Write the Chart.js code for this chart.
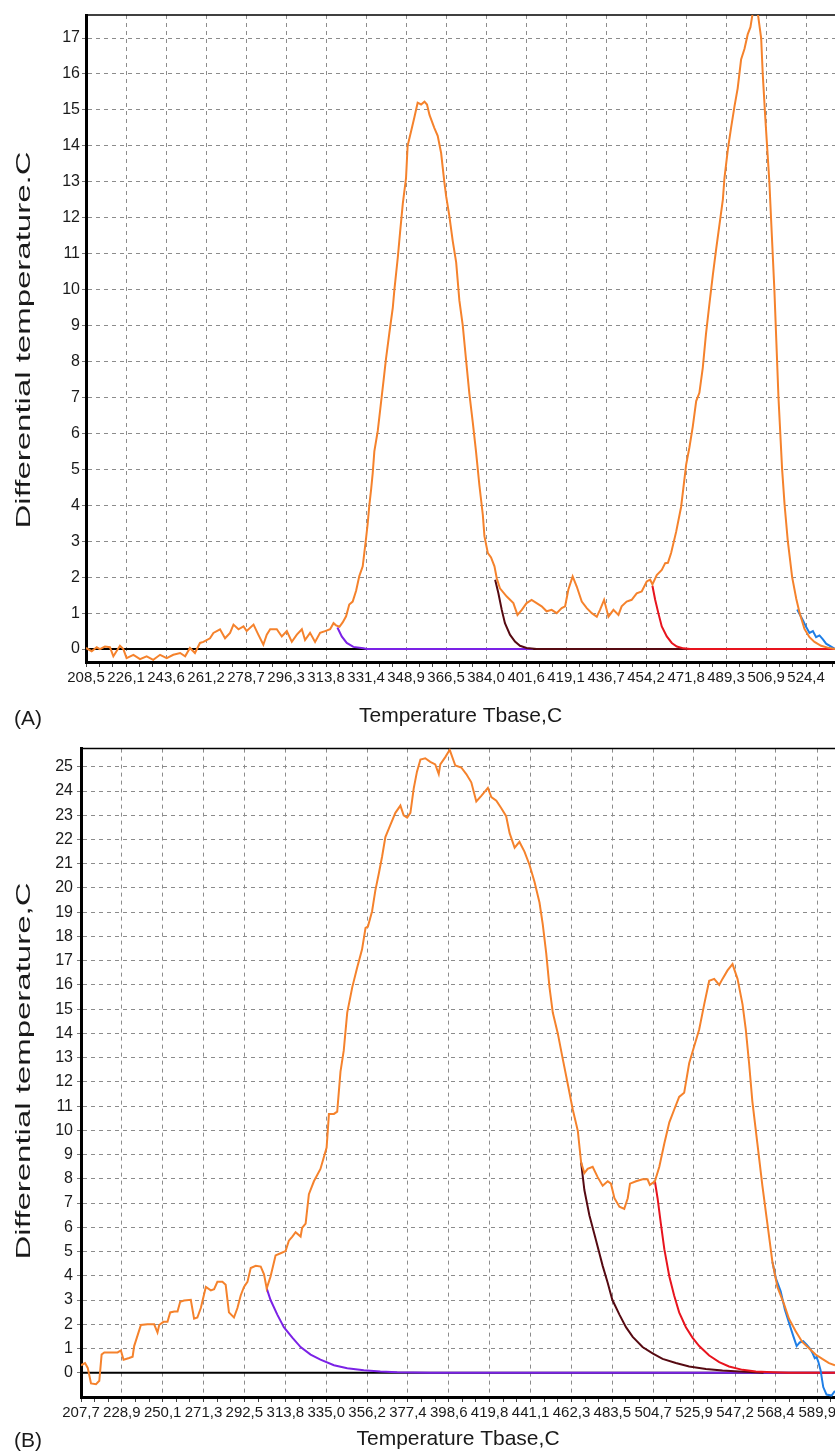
<!DOCTYPE html>
<html>
<head>
<meta charset="utf-8">
<script src="https://cdn.jsdelivr.net/npm/chart.js@4.4.1/dist/chart.umd.min.js"></script>
<style>
html,body{margin:0;padding:0;background:#fff;}
body{width:835px;height:1452px;position:relative;overflow:hidden;font-family:'Liberation Sans',Arial,sans-serif;}
#wa{position:absolute;left:0;top:0;width:835px;height:735px;}
#wb{position:absolute;left:0;top:735px;width:835px;height:717px;}
.panel{position:absolute;left:14px;font-size:21px;color:#1a1a1a;line-height:1;}
.ytitle{position:absolute;font-size:21px;color:#1a1a1a;line-height:1;white-space:nowrap;
        transform:translate(-50%,-50%) rotate(-90deg) scaleX(1.57);}
</style>
</head>
<body>
<div id="wa"><canvas id="ca"></canvas></div>
<div id="wb"><canvas id="cb"></canvas></div>
<div class="panel" style="top:707px">(A)</div>
<div class="panel" style="top:1429px">(B)</div>
<div class="ytitle" style="left:22px;top:340px">Differential temperature.C</div>
<div class="ytitle" style="left:22px;top:1071px">Differential temperature,C</div>
<script>
// ---------------- DATA ----------------
// Panel A tick values
const xTicksA = [208.5, 226.1, 243.6, 261.2, 278.7, 296.3, 313.8, 331.4, 348.9, 366.5, 384.0, 401.6, 419.1, 436.7, 454.2, 471.8, 489.3, 506.9, 524.4];
const yTicksA = [0, 1, 2, 3, 4, 5, 6, 7, 8, 9, 10, 11, 12, 13, 14, 15, 16, 17];
// Panel B tick values
const xTicksB = [207.7, 228.9, 250.1, 271.3, 292.5, 313.8, 335.0, 356.2, 377.4, 398.6, 419.8, 441.1, 462.3, 483.5, 504.7, 525.9, 547.2, 568.4, 589.9];
const yTicksB = [0, 1, 2, 3, 4, 5, 6, 7, 8, 9, 10, 11, 12, 13, 14, 15, 16, 17, 18, 19, 20, 21, 22, 23, 24, 25];

// Panel A series [Tbase, dT]
const A_orange = [
 [208.5,0.03],[211.0,-0.06],[213.2,0.05],[214.6,0.0],[216.8,0.07],[219.0,0.05],[220.5,-0.2],[223.4,0.09],[224.9,0.0],
 [226.3,-0.25],[229.3,-0.16],[232.2,-0.28],[235.1,-0.2],[238.0,-0.3],[241.0,-0.16],[243.9,-0.25],[246.8,-0.16],[249.8,-0.11],
 [252.0,-0.2],[254.1,0.03],[256.3,-0.11],[258.5,0.17],[260.0,0.2],[262.9,0.3],[264.4,0.45],[267.3,0.55],[269.5,0.3],
 [271.7,0.45],[273.2,0.68],[275.4,0.55],[277.6,0.63],[279.0,0.5],[282.0,0.68],[284.1,0.4],[286.3,0.12],[287.8,0.4],
 [289.3,0.55],[292.2,0.55],[294.4,0.35],[296.6,0.5],[298.8,0.2],[301.0,0.4],[303.2,0.55],[304.6,0.25],[306.8,0.45],
 [309.0,0.2],[311.2,0.45],[313.4,0.5],[315.6,0.55],[317.1,0.72],[318.2,0.66],[319.7,0.62],[321.1,0.74],[322.6,0.91],
 [324.0,1.24],[325.5,1.32],[327.0,1.62],[328.4,2.03],[329.9,2.3],[331.4,3.1],[332.1,3.5],[332.8,4.0],[333.6,4.45],
 [334.3,4.9],[335.0,5.5],[336.5,6.07],[338.0,6.9],[339.1,7.5],[340.1,8.07],[341.6,8.8],[343.1,9.5],[343.8,10.0],
 [345.3,10.9],[346.3,11.6],[347.5,12.4],[348.9,13.1],[349.6,14.0],[351.1,14.4],[352.6,14.8],[354.0,15.2],[355.5,15.15],
 [357.0,15.23],[358.1,15.15],[359.2,14.86],[361.3,14.5],[362.8,14.28],[364.3,13.8],[365.7,13.0],[366.5,12.6],[367.9,12.05],
 [369.4,11.35],[370.9,10.76],[372.3,9.7],[373.8,9.0],[375.2,8.07],[376.7,7.1],[378.2,6.3],[379.6,5.5],[381.1,4.55],
 [382.6,3.73],[383.3,3.14],[384.8,2.67],[386.2,2.55],[387.7,2.3],[388.7,1.97],[390.1,1.69],[393.1,1.46],[396.0,1.28],
 [397.8,0.95],[399.7,1.09],[401.8,1.28],[404.0,1.37],[406.2,1.28],[408.4,1.19],[410.6,1.05],[412.8,1.09],[415.0,1.0],
 [417.2,1.14],[418.7,1.19],[420.1,1.65],[422.0,2.02],[423.8,1.74],[426.0,1.32],[428.2,1.14],[430.4,1.0],[432.6,0.9],
 [434.0,1.09],[435.8,1.37],[437.7,0.9],[439.9,1.09],[442.1,0.95],[443.5,1.19],[445.7,1.32],[447.9,1.37],[450.1,1.55],
 [452.3,1.6],[454.5,1.88],[456.0,1.93],[457.0,1.8],[458.9,2.06],[461.1,2.2],[462.6,2.39],[463.8,2.4],[465.2,2.67],
 [467.4,3.26],[469.6,3.96],[471.8,5.13],[473.2,5.6],[474.7,6.19],[476.2,6.9],[477.6,7.13],[479.1,7.83],[480.5,8.77],
 [482.0,9.6],[483.5,10.4],[484.9,11.1],[486.4,11.8],[487.9,12.5],[488.6,13.1],[490.1,13.9],[491.5,14.5],[493.0,15.1],
 [494.4,15.6],[495.9,16.4],[497.4,16.7],[498.8,17.1],[500.0,17.3],[501.0,17.7],[503.2,17.7],[504.7,17.0],[505.4,16.0],
 [506.5,14.8],[508.3,13.0],[509.4,11.5],[510.5,10.0],[511.4,8.5],[512.3,7.0],[513.9,5.0],[515.0,4.0],[516.4,3.0],
 [518.3,2.0],[520.1,1.4],[521.6,1.0],[523.7,0.56],[525.9,0.33],[528.1,0.2],[531.0,0.09],[533.9,0.04],[537.1,0.0]
];
const A_purple = [[318.8,0.6],[320.7,0.35],[322.9,0.17],[325.8,0.06],[330.2,0.02],[331.7,0.0],[404.8,0.0]];
const A_maroon = [[388.0,1.93],[389.4,1.56],[390.9,1.09],[392.3,0.72],[394.5,0.4],[396.7,0.21],[398.9,0.09],[401.8,0.03],[406.2,0.0],[473.5,0.0]];
const A_red = [[457.0,1.76],[458.2,1.37],[459.6,1.0],[461.1,0.63],[463.3,0.35],[465.5,0.17],[467.7,0.07],[470.6,0.02],[473.5,0.0],[537.1,0.0]];
const A_blue = [[520.5,1.1],[523.0,0.8],[524.4,0.62],[525.9,0.45],[527.4,0.5],[528.8,0.33],[530.3,0.38],[531.8,0.27],[533.2,0.15],[535.4,0.07],[537.1,0.0]];

// Panel B series [Tbase, dT]
const B_orange = [
 [207.7,0.31],[209.8,0.4],[211.2,0.2],[212.9,-0.44],[215.5,-0.47],[217.2,-0.33],[218.4,0.75],[219.8,0.84],[223.2,0.84],
 [226.7,0.84],[228.4,0.92],[229.8,0.54],[232.7,0.61],[234.5,0.66],[235.3,1.1],[236.7,1.45],[238.8,1.97],[242.2,2.0],
 [245.7,2.0],[247.4,1.66],[248.3,1.97],[250.5,2.1],[252.6,2.1],[254.0,2.49],[256.1,2.53],[257.8,2.53],[259.2,2.93],
 [261.2,2.98],[264.7,3.01],[266.4,2.23],[268.1,2.28],[269.9,2.67],[272.5,3.54],[275.1,3.4],[276.8,3.45],[278.5,3.75],
 [281.1,3.75],[282.8,3.63],[284.5,2.49],[287.1,2.28],[288.9,2.67],[290.6,3.19],[292.3,3.54],[294.1,3.75],[295.8,4.32],
 [298.4,4.41],[301.0,4.38],[302.7,4.06],[304.1,3.48],[306.1,3.97],[308.7,4.84],[311.3,4.93],[313.9,5.02],[315.6,5.45],
 [317.4,5.62],[319.1,5.8],[321.7,5.62],[322.5,5.98],[324.3,6.15],[326.0,7.37],[328.6,7.9],[332.0,8.41],[335.2,9.29],
 [336.4,10.68],[339.0,10.68],[340.7,10.77],[342.4,12.42],[344.1,13.3],[345.9,14.86],[348.5,15.9],[351.0,16.7],[353.6,17.47],
 [355.4,18.35],[356.6,18.4],[358.8,19.04],[360.5,19.9],[362.3,20.6],[364.0,21.3],[365.7,22.1],[368.3,22.6],[370.9,23.1],
 [373.5,23.4],[375.2,23.0],[377.0,22.9],[378.7,23.1],[380.4,24.1],[382.1,24.8],[383.9,25.3],[386.4,25.35],[389.0,25.2],
 [391.6,25.1],[393.4,24.7],[394.2,25.1],[396.8,25.4],[399.1,25.7],[402.0,25.05],[405.1,24.97],[407.7,24.7],[410.3,24.36],
 [412.9,23.57],[415.5,23.8],[418.9,24.13],[420.7,23.75],[423.3,23.6],[425.8,23.3],[428.4,22.96],[430.2,22.26],[432.8,21.66],
 [435.3,21.9],[437.9,21.5],[440.5,20.96],[443.1,20.26],[445.7,19.4],[447.4,18.5],[449.2,17.3],[450.9,15.9],[452.6,14.86],
 [455.2,14.0],[457.8,12.94],[460.4,11.9],[463.0,10.85],[465.6,9.98],[467.3,8.68],[469.0,8.24],[470.7,8.41],[473.3,8.5],
 [475.9,8.07],[478.5,7.72],[481.1,7.9],[482.8,7.8],[484.6,7.2],[487.2,6.85],[489.7,6.76],[491.5,7.2],[492.7,7.8],
 [495.8,7.9],[499.2,7.98],[501.8,7.98],[503.0,7.75],[505.6,7.9],[507.9,8.5],[510.5,9.46],[513.1,10.33],[515.6,10.85],
 [518.2,11.38],[520.8,11.55],[523.4,12.77],[526.0,13.47],[528.6,14.16],[531.2,15.2],[533.8,16.17],[536.4,16.25],[539.0,16.0],
 [540.7,16.25],[543.3,16.6],[545.9,16.86],[548.5,16.25],[551.1,15.2],[552.8,14.16],[554.5,12.77],[556.2,11.2],[558.8,9.46],
 [561.4,7.72],[564.0,6.15],[566.6,4.58],[569.2,3.54],[572.6,2.84],[575.2,2.23],[578.7,1.71],[582.1,1.27],[585.6,1.01],
 [589.0,0.75],[592.5,0.57],[596.0,0.4],[599.1,0.31]
];
const B_purple = [[304.1,3.48],[306.1,3.0],[309.6,2.4],[313.0,1.88],[317.4,1.45],[321.7,1.06],[326.9,0.75],[332.0,0.54],[339.0,0.31],[345.9,0.19],[354.5,0.1],[363.1,0.05],[371.8,0.02],[389.0,0.0],[599.1,0.0]];
const B_maroon = [[467.3,8.68],[469.0,7.54],[471.6,6.5],[475.1,5.45],[478.5,4.41],[481.1,3.71],[483.5,3.01],[487.2,2.4],[490.6,1.88],[494.1,1.48],[499.2,1.06],[504.4,0.8],[509.6,0.57],[516.5,0.4],[523.4,0.26],[532.1,0.16],[540.7,0.09],[549.3,0.05],[558.0,0.02],[562.0,0.0]];
const B_red = [[505.6,7.9],[507.0,7.2],[508.7,6.15],[510.5,5.1],[513.1,3.97],[515.6,3.19],[518.2,2.49],[521.7,1.88],[525.1,1.45],[528.6,1.1],[533.8,0.71],[539.0,0.44],[544.1,0.26],[551.1,0.12],[558.0,0.05],[566.6,0.02],[575.0,0.0],[599.1,0.0]];
const B_blue = [[566.6,4.58],[568.4,3.9],[570.9,3.36],[573.1,2.6],[575.7,1.94],[577.5,1.5],[579.2,1.1],[580.8,1.25],[582.6,1.3],[584.5,1.15],[586.1,1.0],[587.5,0.8],[588.6,0.6],[589.5,0.65],[590.4,0.46],[591.6,0.11],[593.0,-0.59],[594.7,-0.9],[597.3,-0.94],[599.1,-0.75]];

// ---------------- STYLE ----------------
const FONT = "'Liberation Sans', Arial, Helvetica, sans-serif";
const ORANGE = '#F5822C', PURPLE = '#7B22E6', MAROON = '#560A12', RED = '#E8141E', BLUE = '#1E7EE6';
const GRID = '#8c8c8c';
const MINOR_PER_STEP = 3;

const frameAndZero = {
  id: 'frameAndZero',
  beforeDatasetsDraw(chart) {
    const {ctx, chartArea: {left, right, top}, scales: {y}} = chart;
    const y0 = y.getPixelForValue(0);
    ctx.save();
    ctx.strokeStyle = '#000';
    ctx.lineWidth = 2;
    ctx.beginPath(); ctx.moveTo(left, y0); ctx.lineTo(right, y0); ctx.stroke();
    ctx.lineWidth = 1.5;
    ctx.beginPath(); ctx.moveTo(left, top); ctx.lineTo(right, top); ctx.stroke();
    ctx.restore();
  }
};

const toXY = arr => arr.map(([x, y]) => ({x, y}));
const fmt = v => Number(v).toFixed(1).replace('.', ',');

// major ticks from the tick array plus minor subdivisions between them
function buildXTicks(majors, max) {
  const out = [];
  const step = (majors[majors.length - 1] - majors[0]) / (majors.length - 1);
  majors.forEach((v, i) => {
    out.push({value: v, major: true});
    const next = i < majors.length - 1 ? majors[i + 1] : v + step;
    for (let k = 1; k < MINOR_PER_STEP; k++) {
      const m = v + (next - v) * k / MINOR_PER_STEP;
      if (m <= max) out.push({value: m, major: false});
    }
  });
  return out;
}

function makeChart(id, o) {
  const ds = o.series.map(s => ({
    data: toXY(s.data), borderColor: s.color, backgroundColor: s.color,
    borderWidth: 2, pointRadius: 0, tension: 0, fill: false
  }));
  return new Chart(document.getElementById(id), {
    type: 'line',
    data: {datasets: ds},
    options: {
      animation: false, responsive: true, maintainAspectRatio: false,
      layout: {padding: {top: o.padTop, left: 0, right: 0, bottom: 0}},
      plugins: {legend: {display: false}, tooltip: {enabled: false}},
      scales: {
        x: {
          type: 'linear', min: o.xMin, max: o.xMax,
          afterBuildTicks: s => { s.ticks = buildXTicks(o.xTicks, o.xMax); },
          afterFit: s => { s.height = o.xHeight; },
          ticks: {autoSkip: false, maxRotation: 0, minRotation: 0, padding: 2, color: '#1a1a1a',
                  font: {family: FONT, size: 15},
                  callback: function (v, i, t) { return t[i].major ? fmt(v) : ''; }},
          grid: {
            color: c => (c.tick && c.tick.major) ? GRID : 'rgba(0,0,0,0)',
            lineWidth: 1, tickLength: 5, tickColor: '#444', tickWidth: 1
          },
          border: {display: true, color: '#000', width: 3, dash: [4, 4]},
          title: {display: true, text: 'Temperature Tbase,C', color: '#1a1a1a',
                  font: {family: FONT, size: 21}, padding: {top: 0, bottom: o.xTitlePad}}
        },
        y: {
          type: 'linear', min: o.yMin, max: o.yMax,
          afterBuildTicks: s => { s.ticks = o.yTicks.map(v => ({value: v})); },
          afterFit: s => { s.width = o.yWidth; },
          ticks: {padding: o.yLabelPad, color: '#1a1a1a', font: {family: FONT, size: 16}, callback: v => String(v)},
          grid: {color: GRID, lineWidth: 1, tickLength: 4, tickColor: '#777', tickWidth: 1},
          border: {display: true, color: '#000', width: 3, dash: [4, 4]},
          title: {display: false}
        }
      }
    },
    plugins: [frameAndZero]
  });
}

makeChart('ca', {
  xMin: 208.5, xMax: 537.1, yMin: -0.36, yMax: 17.64,
  xTicks: xTicksA, yTicks: yTicksA, padTop: 15, xHeight: 73, yWidth: 86, yLabelPad: 2, xTitlePad: 6,
  series: [
    {data: A_orange, color: ORANGE}, {data: A_blue, color: BLUE}, {data: A_red, color: RED},
    {data: A_maroon, color: MAROON}, {data: A_purple, color: PURPLE}
  ]
});

makeChart('cb', {
  xMin: 207.7, xMax: 599.1, yMin: -1, yMax: 25.75,
  xTicks: xTicksB, yTicks: yTicksB, padTop: 12, xHeight: 55, yWidth: 81, yLabelPad: 4, xTitlePad: 0,
  series: [
    {data: B_orange, color: ORANGE}, {data: B_blue, color: BLUE}, {data: B_red, color: RED},
    {data: B_maroon, color: MAROON}, {data: B_purple, color: PURPLE}
  ]
});
</script>
</body>
</html>
